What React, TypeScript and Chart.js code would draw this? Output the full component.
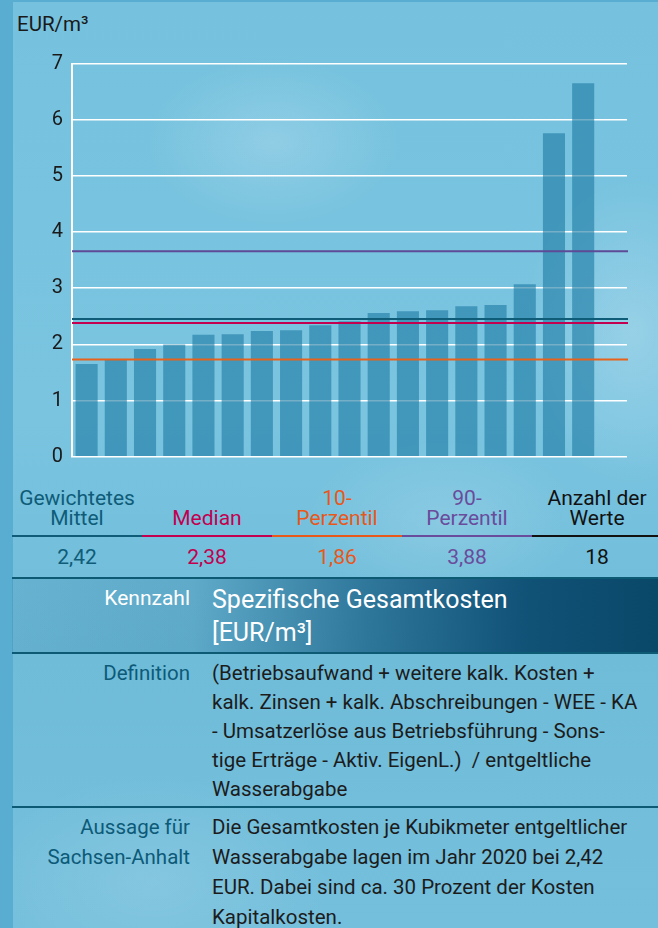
import React, { useEffect, useRef } from "react";
import { Chart, registerables } from "chart.js";

Chart.register(...registerables);

// ---- data ----
const categories = ["1", "2", "3", "4", "5", "6", "7", "8", "9", "10", "11", "12", "13", "14", "15", "16", "17", "18", ""];
const costValues = [1.65, 1.72, 1.92, 2.0, 2.17, 2.18, 2.24, 2.25, 2.34, 2.41, 2.56, 2.59, 2.61, 2.68, 2.7, 3.07, 5.76, 6.65, null];
const yTicks = [0, 1, 2, 3, 4, 5, 6, 7];
const refNames = ["Gewichtetes Mittel", "Median", "10-Perzentil", "90-Perzentil"];
const refLineValues = [2.45, 2.38, 1.73, 3.66];
const refColors = ["#0e5c78", "#c2004f", "#e8621c", "#5e4a96"];
const headerLabels = ["Gewichtetes\nMittel", "Median", "10-\nPerzentil", "90-\nPerzentil", "Anzahl der\nWerte"];
const headerValues = ["2,42", "2,38", "1,86", "3,88", "18"];
const headerColors = ["#0e5c78", "#c2004f", "#e8581a", "#6a4c9c", "#111111"];
const definitionLines = [
  "(Betriebsaufwand + weitere kalk. Kosten +",
  "kalk. Zinsen + kalk. Abschreibungen - WEE - KA",
  "- Umsatzerlöse aus Betriebsführung - Sons-",
  "tige Erträge - Aktiv. EigenL.)  / entgeltliche",
  "Wasserabgabe",
];
const statementLines = [
  "Die Gesamtkosten je Kubikmeter entgeltlicher",
  "Wasserabgabe lagen im Jahr 2020 bei 2,42",
  "EUR. Dabei sind ca. 30 Prozent der Kosten",
  "Kapitalkosten.",
];

const FONT = "Roboto, 'Noto Sans', sans-serif";

const refLinePlugin = {
  id: "refLines",
  afterDatasetsDraw(chart: any) {
    const { ctx, chartArea, scales } = chart;
    const y = scales.y;
    ctx.save();
    refLineValues.forEach((v, i) => {
      const py = y.getPixelForValue(v);
      ctx.beginPath();
      ctx.strokeStyle = refColors[i];
      ctx.lineWidth = 2;
      ctx.moveTo(chartArea.left, py);
      ctx.lineTo(chartArea.right + 1, py);
      ctx.stroke();
    });
    ctx.restore();
  },
};

function BarChart() {
  const ref = useRef<HTMLCanvasElement | null>(null);
  useEffect(() => {
    if (!ref.current) return;
    const chart = new Chart(ref.current, {
      type: "bar",
      data: {
        labels: categories,
        datasets: [
          {
            label: "Spezifische Gesamtkosten",
            data: costValues,
            backgroundColor: "rgba(30,125,165,0.62)",
            borderWidth: 0,
            barPercentage: 0.9,
            categoryPercentage: 0.84,
          },
        ],
      },
      options: {
        responsive: false,
        animation: false,
        layout: { padding: { top: 63.6, bottom: 23.3, left: 0, right: 13 } },
        plugins: { legend: { display: false }, tooltip: { enabled: false }, title: { display: false } },
        scales: {
          x: { type: "category", display: false, offset: true, grid: { display: false } },
          y: {
            min: 0,
            max: 7,
            afterBuildTicks: (s: any) => {
              s.ticks = yTicks.map((v) => ({ value: v }));
            },
            afterFit: (s: any) => {
              s.width = 72;
            },
            ticks: { color: "#1a1a1a", font: { family: FONT, size: 20 }, padding: 9 },
            grid: { color: "#ffffff", lineWidth: 1.6, drawTicks: false },
            border: { display: true, color: "#ffffff", width: 2 },
          },
        },
      } as any,
      plugins: [refLinePlugin],
    });
    return () => chart.destroy();
  }, []);
  return <canvas ref={ref} width={640} height={480} style={{ position: "absolute", left: 0, top: 0 }} />;
}

export default function App() {
  const abs = (o: React.CSSProperties): React.CSSProperties => ({ position: "absolute", ...o });
  return (
    <div
      style={{
        position: "fixed",
        left: 0,
        top: 0,
        width: 658,
        height: 928,
        overflow: "hidden",
        background: "#58add0",
        fontFamily: FONT,
      }}
    >
      <div
        style={abs({
          left: 13,
          top: 2,
          width: 645,
          height: 926,
          background:
            "radial-gradient(ellipse 180px 120px at 260px 140px, rgba(255,255,255,0.18), rgba(255,255,255,0) 70%)," +
            "radial-gradient(ellipse 160px 220px at 620px 330px, rgba(255,255,255,0.22), rgba(255,255,255,0) 70%)," +
            "radial-gradient(ellipse 200px 120px at 430px 520px, rgba(255,255,255,0.15), rgba(255,255,255,0) 70%)," +
            "radial-gradient(ellipse 260px 160px at 140px 880px, rgba(255,255,255,0.12), rgba(255,255,255,0) 70%)," +
            "linear-gradient(180deg, #76c2de 0%, #7ac4e0 45%, #6fbcd9 70%, #74bfdc 100%)",
        })}
      />
      <div style={abs({ left: 17, top: 12, fontSize: 20.5, color: "#1a1a1a", lineHeight: "24px" })}>EUR/m³</div>
      <BarChart />

      {headerLabels.map((t, i) => {
        const lines = t.split("\n");
        return (
          <div
            key={"h" + i}
            style={abs({
              left: 12 + 130 * i,
              width: 130,
              top: 528 - 20 * lines.length,
              textAlign: "center",
              fontSize: 21,
              lineHeight: "20px",
              color: headerColors[i],
            })}
          >
            {lines.map((l, j) => (
              <div key={j}>{l}</div>
            ))}
          </div>
        );
      })}
      {headerColors.map((c, i) => (
        <div key={"l" + i} style={abs({ left: 12 + 130 * i, width: i === 4 ? 134 : 130, top: 535, height: 2, background: c })} />
      ))}
      {headerValues.map((v, i) => (
        <div
          key={"v" + i}
          style={abs({
            left: 12 + 130 * i,
            width: 130,
            top: 546,
            lineHeight: "22px",
            textAlign: "center",
            fontSize: 21,
            color: headerColors[i],
          })}
        >
          {v}
        </div>
      ))}
      <div style={abs({ left: 12, width: 646, top: 577, height: 2, background: "#0d5a74" })} />

      <div
        style={abs({
          left: 12,
          width: 646,
          top: 579,
          height: 73,
          background:
            "linear-gradient(90deg, rgba(20,90,130,0.12) 0%, rgba(20,90,130,0.2) 28%, rgba(10,80,120,0.65) 55%, rgba(8,72,110,0.92) 80%, #0a4868 100%)",
        })}
      />
      <div style={abs({ left: 12, width: 178, top: 586, lineHeight: "24px", textAlign: "right", fontSize: 21, color: "#ffffff" })}>
        Kennzahl
      </div>
      <div style={abs({ left: 212, top: 583, lineHeight: "33px", fontSize: 25, color: "#ffffff" })}>
        <div>Spezifische Gesamtkosten</div>
        <div>[EUR/m³]</div>
      </div>
      <div style={abs({ left: 12, width: 646, top: 652, height: 2, background: "#0d5a74" })} />

      <div style={abs({ left: 12, width: 178, top: 659, lineHeight: "29px", textAlign: "right", fontSize: 20.5, color: "#0d5a78" })}>
        Definition
      </div>
      <div style={abs({ left: 212, top: 659, lineHeight: "29px", fontSize: 20.5, color: "#1c1c1c", whiteSpace: "pre" })}>
        {definitionLines.map((l, i) => (
          <div key={i}>{l}</div>
        ))}
      </div>
      <div style={abs({ left: 12, width: 646, top: 806, height: 2, background: "#0d5a74" })} />

      <div style={abs({ left: 12, width: 178, top: 812, lineHeight: "30px", textAlign: "right", fontSize: 20.5, color: "#0d5a78" })}>
        <div>Aussage für</div>
        <div>Sachsen-Anhalt</div>
      </div>
      <div style={abs({ left: 212, top: 812, lineHeight: "30px", fontSize: 20.5, color: "#1c1c1c", whiteSpace: "pre" })}>
        {statementLines.map((l, i) => (
          <div key={i}>{l}</div>
        ))}
      </div>
    </div>
  );
}
